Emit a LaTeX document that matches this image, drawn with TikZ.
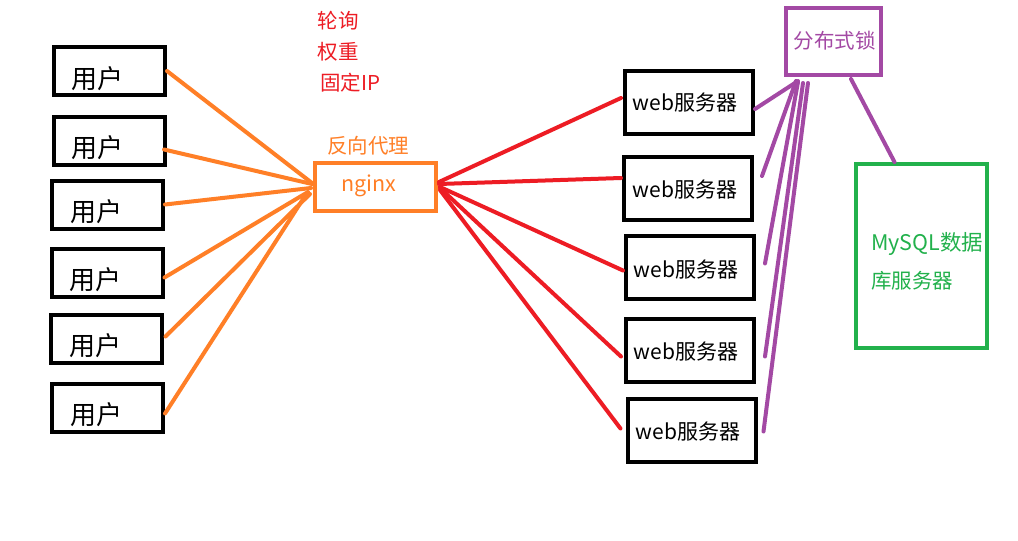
\documentclass[tikz,border=0pt]{standalone}
\usepackage{fontspec}
\setmainfont{Noto Sans CJK SC}
\usetikzlibrary{calc}
\definecolor{porange}{HTML}{FF7F27}
\definecolor{pred}{HTML}{ED1C24}
\definecolor{ppurple}{HTML}{A349A4}
\definecolor{pgreen}{HTML}{22B14C}
\begin{document}
\begin{tikzpicture}[x=1pt,y=-1pt,
  userbox/.style={draw=black,line width=4pt,minimum width=111pt,minimum height=48pt,inner sep=0pt},
  webbox/.style={draw=black,line width=4pt,minimum width=128pt,minimum height=63pt,inner sep=0pt},
  usertext/.style={font=\fontsize{26}{26}\selectfont,inner sep=0pt},
  webtext/.style={font=\fontsize{21}{21}\selectfont,inner sep=0pt},
  lbl/.style={font=\fontsize{20.5}{20.5}\selectfont,inner sep=0pt},
  olink/.style={draw=porange,line width=4pt,line cap=round},
  rlink/.style={draw=pred,line width=4pt,line cap=round},
  plink/.style={draw=ppurple,line width=4pt,line cap=round}]
\useasboundingbox[fill=white] (0,0) rectangle (1018,541);

% user boxes
\node[userbox] (u1) at (109.5,71) {};
\node[userbox] (u2) at (109.5,140.5) {};
\node[userbox] (u3) at (107.5,204.5) {};
\node[userbox] (u4) at (107,272.5) {};
\node[userbox] (u5) at (106,338.5) {};
\node[userbox] (u6) at (107.5,407.5) {};
\node[usertext] (t1) at (97,78.5) {用户};
\node[usertext] (t2) at (97,147.5) {用户};
\node[usertext] (t3) at (96,211.5) {用户};
\node[usertext] (t4) at (95,279.5) {用户};
\node[usertext] (t5) at (95,345.5) {用户};
\node[usertext] (t6) at (96,414.5) {用户};

% nginx
\node[draw=porange,line width=4pt,minimum width=121pt,minimum height=48pt,inner sep=0pt] (ng) at (375.5,187) {};
\node[lbl,text=porange,font=\fontsize{21.5}{21.5}\selectfont] (ngt) at (369,186) {nginx};
\node[lbl,text=porange] (rp) at (368,146) {反向代理};

% strategies
\node[lbl,text=pred] (s1) at (338,21) {轮询};
\node[lbl,text=pred] (s2) at (338,52) {权重};
\node[lbl,text=pred] (s3) at (350,83) {固定IP};

% web servers
\node[webbox] (w1) at (689,102) {};
\node[webbox] (w2) at (688,188) {};
\node[webbox] (w3) at (690,267.5) {};
\node[webbox] (w4) at (690,350.5) {};
\node[webbox] (w5) at (691.5,430.5) {};
\node[webtext] (wt1) at (685,103) {web服务器};
\node[webtext] (wt2) at (685,190) {web服务器};
\node[webtext] (wt3) at (686,270) {web服务器};
\node[webtext] (wt4) at (686,352) {web服务器};
\node[webtext] (wt5) at (688,432) {web服务器};

% lock
\node[draw=ppurple,line width=4pt,minimum width=95pt,minimum height=67pt,inner sep=0pt] (lk) at (833.5,41.5) {};
\node[lbl,text=ppurple] (lkt) at (834.5,41) {分布式锁};

% mysql
\node[draw=pgreen,line width=4pt,minimum width=131pt,minimum height=184pt,inner sep=0pt] (db) at (921.5,256) {};
\node[lbl,text=pgreen,anchor=west,font=\fontsize{21.5}{21.5}\selectfont] (dbt1) at (871,244) {MySQL数据};
\node[lbl,text=pgreen,anchor=west] (dbt2) at (871,281) {库服务器};

% users -> nginx
\draw[olink] (u1.east) -- ($(ng.west)+(-1,-4)$);
\draw[olink] ($(u2.east)+(-3,9)$) -- ($(ng.west)+(-1,-3)$);
\draw[olink] (u3.east) -- ($(ng.west)+(-2,1)$);
\draw[olink] ($(u4.east)+(0,5)$) -- ($(ng.west)+(-5,5)$);
\draw[olink] ($(u5.east)+(2,-2)$) -- ($(ng.west)+(-3,7)$);
\draw[olink] ($(u6.east)+(0,6)$) -- ($(ng.west)+(-8,9)$);

% nginx -> web
\draw[rlink] ($(ng.east)+(1,-5)$) -- ($(w1.west)+(-2,-4)$);
\draw[rlink] ($(ng.east)+(1,-3)$) -- ($(w2.west)+(-1,-10)$);
\draw[rlink] ($(ng.east)+(2,0)$) -- ($(w3.west)+(-1,3)$);
\draw[rlink] ($(ng.east)+(2,1)$) -- ($(w4.west)+(-3,6)$);
\draw[rlink] ($(ng.east)+(2,3)$) -- ($(w5.west)+(-5,-2)$);

% lock -> web
\draw[plink] ($(lk.south west)+(14,4)$) -- ($(w1.east)+(0,7)$);
\draw[plink] ($(lk.south west)+(12,4)$) -- ($(w2.east)+(8,-12)$);
\draw[plink] ($(lk.south west)+(14,5)$) -- ($(w3.east)+(9,-4)$);
\draw[plink] ($(lk.south west)+(19,6)$) -- ($(w4.east)+(9,6)$);
\draw[plink] ($(lk.south west)+(24,6)$) -- ($(w5.east)+(6,1)$);

% lock -> mysql
\draw[plink] ($(lk.south)+(17.5,2)$) -- ($(db.north)+(-27,0)$);
\end{tikzpicture}
\end{document}
